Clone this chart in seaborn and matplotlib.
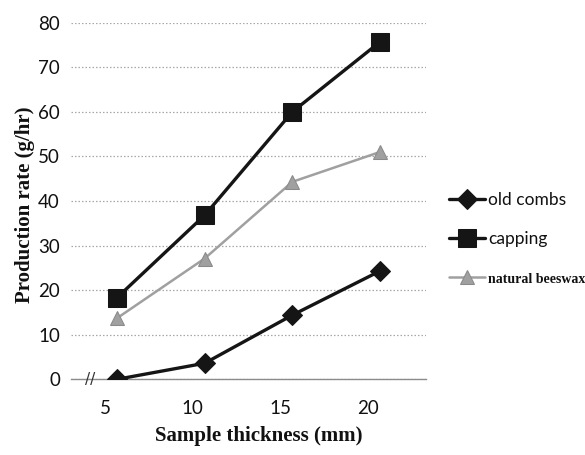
import matplotlib
matplotlib.use("Agg")
import matplotlib.pyplot as plt
import matplotlib.transforms as mtransforms
import pandas as pd
import seaborn as sns

# Sample thickness (mm) and production rate (g/hr) per wax source
thickness = [5, 10, 15, 20]
old_combs = [0.0, 3.6, 14.4, 24.3]
capping = [18.3, 36.8, 60.0, 75.7]
natural_beeswax = [13.7, 27.1, 44.3, 51.0]
series_names = ["old combs", "capping", "natural beeswax"]
y_ticks = [0, 10, 20, 30, 40, 50, 60, 70, 80]
x_ticks = [5, 10, 15, 20]

df = pd.DataFrame({
    "thickness": thickness * 3,
    "rate": old_combs + capping + natural_beeswax,
    "sample": [n for n in series_names for _ in thickness],
})

sns.set_theme(style="white")
plt.rcParams["font.family"] = ["Lato", "DejaVu Sans"]

fig = plt.figure(figsize=(5.85, 4.55), dpi=100)
ax = fig.add_axes([71 / 585, 1 - 379.3 / 455, 355 / 585, 356.6 / 455])

styles = {
    "old combs": dict(color="#151515", marker="D", markersize=10, linewidth=2.4,
                      markeredgecolor="#151515"),
    "capping": dict(color="#151515", marker="s", markersize=12.5, linewidth=2.4,
                    markeredgecolor="#151515"),
    "natural beeswax": dict(color="#a0a0a0", marker="^", markersize=10.5, linewidth=1.8,
                            markeredgecolor="#8a8a8a"),
}

handles = []
for name in series_names:
    st = styles[name]
    sub = df[df["sample"] == name]
    sns.lineplot(data=sub, x="thickness", y="rate", ax=ax, color=st["color"],
                 marker=st["marker"], markersize=st["markersize"],
                 linewidth=st["linewidth"], markeredgecolor=st["markeredgecolor"],
                 legend=False, zorder=3)
    handles.append(ax.lines[-1])

ax.set_xlim(2.38, 22.62)
ax.set_ylim(0, 80)
ax.set_yticks(y_ticks)
ax.set_xticks(x_ticks)
ax.set_xticklabels([str(v) for v in x_ticks])
ax.set_yticklabels([str(v) for v in y_ticks])
ax.tick_params(axis="both", length=0, labelsize=13.5, colors="#111111")
ax.tick_params(axis="x", pad=15)
ax.tick_params(axis="y", pad=8)

# x labels sit a little left of their points
shift = mtransforms.ScaledTranslation(-12 / 100, 0, fig.dpi_scale_trans)
for lbl in ax.get_xticklabels():
    lbl.set_transform(lbl.get_transform() + shift)

ax.yaxis.grid(True, color="#a8a8a8", linestyle=(0, (1.2, 1.6)), linewidth=0.9)
ax.xaxis.grid(False)
for side in ["left", "right", "top"]:
    ax.spines[side].set_visible(False)
ax.spines["bottom"].set_color("#8c8c8c")
ax.spines["bottom"].set_linewidth(1.0)

# axis break marker
ax.text(0.055, 0.0, "//", transform=ax.transAxes, ha="center", va="center",
        fontsize=11, color="#333333", family=["DejaVu Sans"], zorder=4)

serif_bold = dict(family=["Liberation Serif"], fontweight="bold", fontsize=15,
                  color="#111111")
ax.set_xlabel("Sample thickness (mm)", **serif_bold)
ax.set_ylabel("Production rate (g/hr)", **serif_bold)
ax.xaxis.set_label_coords(0.53, -0.132)
ax.yaxis.set_label_coords(-0.10, 0.49)

leg = fig.legend(handles, series_names, loc="center left",
                 bbox_to_anchor=(449 / 585, 1 - 239 / 455), frameon=False,
                 handlelength=2.1, handletextpad=0.15, labelspacing=1.35,
                 fontsize=12.5, borderaxespad=0, borderpad=0)
texts = leg.get_texts()
texts[2].set_family(["Liberation Serif"])
texts[2].set_fontweight("bold")
texts[2].set_fontsize(10)
for t in texts:
    t.set_color("#111111")

fig.savefig("out.png", dpi=100)
